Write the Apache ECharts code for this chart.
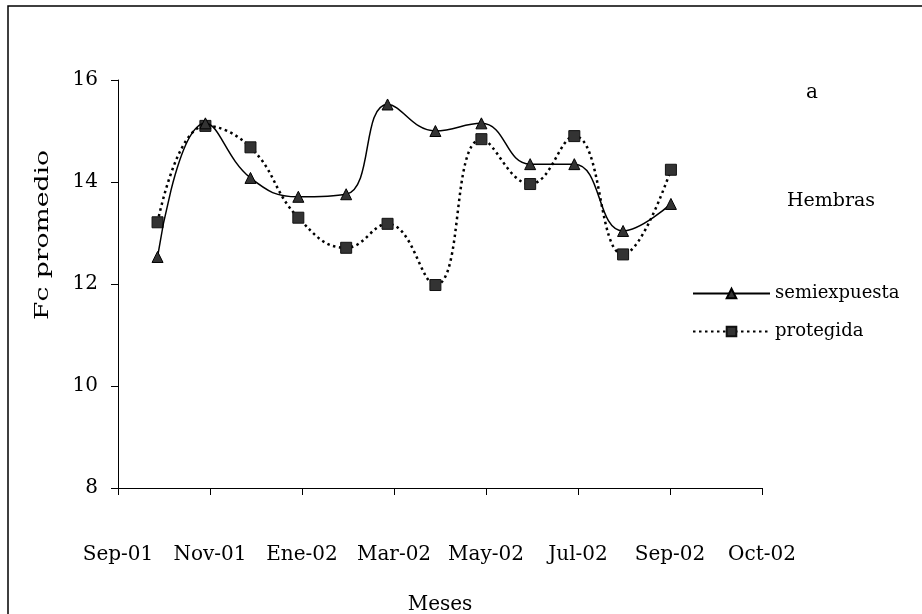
<!DOCTYPE html>
<html>
<head>
<meta charset="utf-8">
<script src="https://cdn.jsdelivr.net/npm/echarts@6/dist/echarts.min.js"></script>
<style>
html, body { margin: 0; padding: 0; background: #fff; }
#chart { width: 922px; height: 614px; }
</style>
</head>
<body>
<div id="chart"></div>
<script>
// posición de cada muestreo sobre el eje x (1 unidad = distancia entre etiquetas)
var xPos = [0.43, 0.95, 1.44, 1.96, 2.48, 2.93, 3.45, 3.95, 4.48, 4.96, 5.49, 6.01];
// Fc promedio por mes
var semiexpuesta = [12.53, 15.15, 14.08, 13.71, 13.76, 15.52, 15.0, 15.15, 14.35, 14.35, 13.04, 13.57];
var protegida = [13.21, 15.10, 14.68, 13.30, 12.71, 13.18, 11.98, 14.84, 13.96, 14.90, 12.58, 14.24];
// etiquetas del eje x
var xLabels = ['Sep-01', 'Nov-01', 'Ene-02', 'Mar-02', 'May-02', 'Jul-02', 'Sep-02', 'Oct-02'];
// marcas del eje y
var yTicks = [8, 10, 12, 14, 16];

var font = 'DejaVu Serif';

function pairs(ys) {
    return ys.map(function (y, i) { return [xPos[i], y]; });
}

var chart = echarts.init(document.getElementById('chart'));

var option = {
    backgroundColor: '#fff',
    animation: false,
    grid: { left: 118, top: 80, right: 160, bottom: 126, containLabel: false, outerBoundsMode: 'none' },
    xAxis: {
        type: 'value',
        min: 0,
        max: xLabels.length - 1,
        interval: 1,
        splitLine: { show: false },
        axisLine: { show: true, onZero: false, lineStyle: { color: '#000', width: 1 } },
        axisTick: { show: true, inside: false, length: 7, lineStyle: { color: '#000' } },
        axisLabel: {
            margin: 57,
            color: '#000',
            fontFamily: font,
            fontSize: 20,
            showMinLabel: true,
            showMaxLabel: true,
            formatter: function (v) { return xLabels[Math.round(v)] || ''; }
        },
        name: 'Meses',
        nameLocation: 'middle',
        nameGap: 107,
        nameTextStyle: { color: '#000', fontFamily: font, fontSize: 20, verticalAlign: 'top' }
    },
    yAxis: {
        type: 'value',
        min: yTicks[0],
        max: yTicks[yTicks.length - 1],
        interval: yTicks[1] - yTicks[0],
        splitLine: { show: false },
        axisLine: { show: true, lineStyle: { color: '#000', width: 1 } },
        axisTick: { show: true, inside: false, length: 7, lineStyle: { color: '#000' } },
        axisLabel: { margin: 20, color: '#000', fontFamily: font, fontSize: 20 }
    },
    legend: {
        orient: 'vertical',
        left: 687,
        top: 279,
        itemWidth: 77,
        itemHeight: 12,
        itemGap: 19,
        textStyle: { color: '#000', fontFamily: font, fontSize: 18, lineHeight: 19 },
        data: ['semiexpuesta', 'protegida']
    },
    graphic: [
        {
            type: 'rect',
            shape: { x: 8, y: 6, width: 1000, height: 1000 },
            style: { fill: 'none', stroke: '#000', lineWidth: 1.5 },
            silent: true
        },
        {
            type: 'text', x: 812, y: 93,
            style: { text: 'a', fill: '#000', font: '20px "DejaVu Serif"', textAlign: 'center', textVerticalAlign: 'middle' }
        },
        {
            type: 'text', x: 831, y: 201,
            style: { text: 'Hembras', fill: '#000', font: '19px "DejaVu Serif"', textAlign: 'center', textVerticalAlign: 'middle' }
        },
        {
            type: 'text', x: 43, y: 235, rotation: Math.PI / 2, scaleX: 1.4,
            style: { text: 'Fc promedio', fill: '#000', font: '19px "DejaVu Serif"', textAlign: 'center', textVerticalAlign: 'middle' }
        }
    ],
    series: [
        {
            name: 'semiexpuesta',
            type: 'line',
            smooth: 0.45,
            data: pairs(semiexpuesta),
            symbol: 'triangle',
            symbolSize: 11,
            lineStyle: { color: '#000', width: 1.5, type: 'solid' },
            itemStyle: { color: '#333', borderColor: '#000', borderWidth: 1 },
            z: 3
        },
        {
            name: 'protegida',
            type: 'line',
            smooth: 0.45,
            data: pairs(protegida),
            symbol: 'rect',
            symbolSize: 11,
            lineStyle: { color: '#000', width: 2.5, type: [2.5, 3.5] },
            itemStyle: { color: '#333', borderColor: '#111', borderWidth: 1 },
            z: 2
        }
    ]
};

chart.setOption(option);
</script>
</body>
</html>
